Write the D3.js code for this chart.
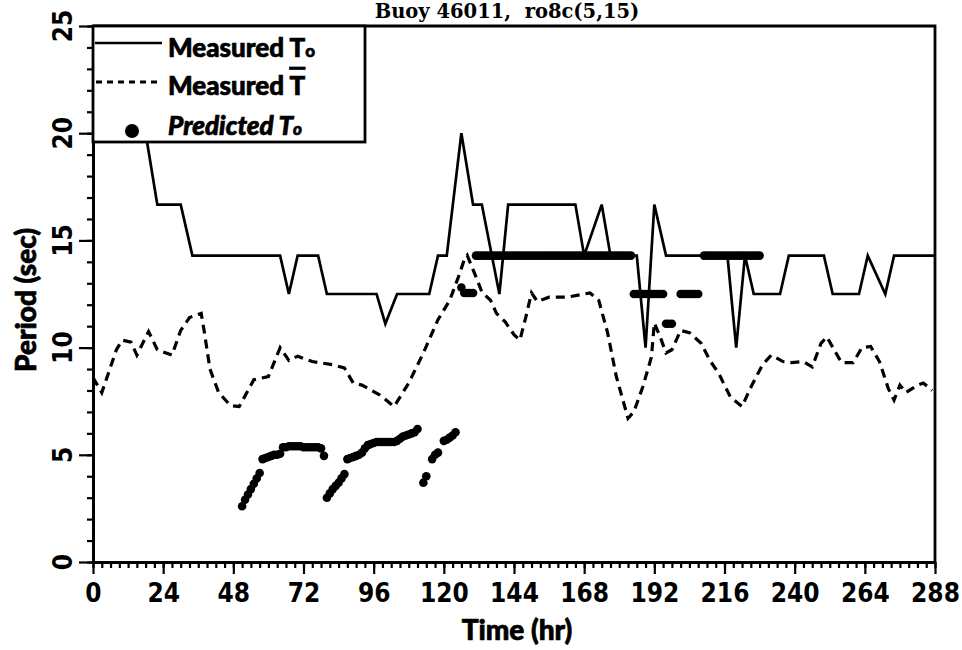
<!DOCTYPE html>
<html><head><meta charset="utf-8">
<script src="https://cdn.jsdelivr.net/npm/d3@7/dist/d3.min.js"></script>
<style>
html,body{margin:0;padding:0;background:#fff;}
svg{display:block;}
</style></head>
<body>
<svg id="chart" width="962" height="650"></svg>
<script>
// ---------------- DATA ----------------
const titleText = "Buoy 46011,\u00a0\u00a0ro8c(5,15)";
const xTickLabels = [0, 24, 48, 72, 96, 120, 144, 168, 192, 216, 240, 264, 288];
const yTickLabels = [0, 5, 10, 15, 20, 25];

// Measured To (solid line)
const toHours  = [0, 18, 22, 30, 34, 64, 67, 70, 77, 80, 97, 100, 104, 115, 118, 121, 126, 130, 133, 139, 142, 165, 168, 174, 177, 186, 189, 192, 196, 217, 220, 223, 226, 235, 238, 250, 253, 262, 265, 271, 274, 288];
const toPeriod = [20, 20, 16.67, 16.67, 14.29, 14.29, 12.5, 14.29, 14.29, 12.5, 12.5, 11.11, 12.5, 12.5, 14.29, 14.29, 20, 16.67, 16.67, 12.5, 16.67, 16.67, 14.29, 16.67, 14.29, 14.29, 10, 16.67, 14.29, 14.29, 10, 14.29, 12.5, 12.5, 14.29, 14.29, 12.5, 12.5, 14.29, 12.5, 14.29, 14.29];

// Measured T-bar (dashed line)
const tbHours  = [0, 3, 8, 10, 13, 15, 19, 22, 25, 27, 30, 33, 37, 38, 40, 43, 47, 50, 55, 60, 64, 67, 70, 75, 82, 86, 89, 92, 98, 103, 108, 113, 118, 122, 125, 127, 128, 131, 133, 136, 138, 141, 144, 146, 148, 150, 152, 156, 162, 170, 173, 176, 179, 183, 185, 188, 191, 192, 194, 196, 198, 201, 204, 208, 211, 214, 218, 222, 225, 229, 232, 236, 239, 243, 246, 249, 251, 256, 260, 263, 266, 269, 272, 274, 276, 278, 282, 284, 287];
const tbPeriod = [8.6, 7.9, 9.9, 10.35, 10.25, 9.65, 10.75, 9.9, 9.75, 9.65, 10.8, 11.4, 11.6, 10.8, 9.0, 7.9, 7.3, 7.25, 8.5, 8.65, 10.0, 9.4, 9.6, 9.35, 9.2, 9.05, 8.35, 8.25, 7.8, 7.25, 8.35, 9.75, 11.3, 12.2, 13.3, 14.1, 14.3, 13.3, 12.6, 12.2, 11.6, 11.2, 10.6, 10.35, 11.4, 12.55, 12.15, 12.35, 12.35, 12.55, 12.2, 10.7, 8.65, 6.7, 7.0, 8.15, 9.55, 11.15, 10.5, 9.75, 9.9, 10.8, 10.7, 10.2, 9.4, 8.8, 7.7, 7.25, 8.15, 9.2, 9.65, 9.35, 9.3, 9.35, 9.1, 10.2, 10.5, 9.3, 9.3, 10.0, 10.05, 9.35, 8.1, 7.55, 8.25, 7.9, 8.25, 8.35, 8.0];

// Predicted To (dots, hourly)
const predHours = [
  51,52,53,54,55,56,57,58,59,60,61,62,63,64,65,66,67,68,69,70,71,72,73,74,75,76,77,78,79,
  80,81,82,83,84,85,86,87,88,89,90,91,92,93,94,95,96,97,98,99,100,101,102,103,104,105,106,107,108,109,110,111,
  113,114,116,117,118,120,121,122,123,124,
  126,127,128,129,130,
  131,132,133,134,135,136,137,138,139,140,141,142,143,144,145,146,147,148,149,150,151,152,153,154,155,156,157,
  158,159,160,161,162,163,164,165,166,167,168,169,170,171,172,173,174,175,176,177,178,179,180,181,182,183,184,
  185,186,187,188,189,190,191,192,193,194,195,
  196,197,198,
  201,202,203,204,205,206,207,
  209,210,211,212,213,214,215,216,217,218,219,220,221,222,223,224,225,226,227,228];
const predPeriod = [
  2.6,2.9,3.15,3.4,3.65,3.9,4.15,4.8,4.85,4.9,4.95,5.0,5.0,5.05,5.35,5.35,5.4,5.4,5.4,5.4,5.4,5.35,5.35,5.35,5.35,5.35,5.35,5.3,4.95,
  3.0,3.2,3.4,3.55,3.7,3.9,4.1,4.8,4.85,4.9,4.95,5.0,5.1,5.3,5.45,5.5,5.55,5.6,5.6,5.6,5.6,5.6,5.6,5.6,5.65,5.75,5.85,5.9,5.95,6.0,6.05,6.2,
  3.7,4.0,4.8,5.0,5.1,5.65,5.7,5.8,5.9,6.05,
  12.8,12.55,12.55,12.55,12.55,
  14.29,14.29,14.29,14.29,14.29,14.29,14.29,14.29,14.29,14.29,14.29,14.29,14.29,14.29,14.29,14.29,14.29,14.29,14.29,14.29,14.29,14.29,14.29,14.29,14.29,14.29,14.29,
  14.29,14.29,14.29,14.29,14.29,14.29,14.29,14.29,14.29,14.29,14.29,14.29,14.29,14.29,14.29,14.29,14.29,14.29,14.29,14.29,14.29,14.29,14.29,14.29,14.29,14.29,14.29,
  12.5,12.5,12.5,12.5,12.5,12.5,12.5,12.5,12.5,12.5,12.5,
  11.11,11.11,11.11,
  12.5,12.5,12.5,12.5,12.5,12.5,12.5,
  14.29,14.29,14.29,14.29,14.29,14.29,14.29,14.29,14.29,14.29,14.29,14.29,14.29,14.29,14.29,14.29,14.29,14.29,14.29,14.29];

const legendLabels = ["Measured T", "Measured T", "Predicted T"];

// ---------------- CHART ----------------
const svg = d3.select("#chart");
const L = 93, R = 935, T = 26, B = 562;
const x = d3.scaleLinear().domain([0, 288]).range([L, R]);
const y = d3.scaleLinear().domain([0, 25]).range([B, T]);

const tickFont = "'DejaVu Sans Condensed','DejaVu Sans',sans-serif";
const textFont = "Lato,'DejaVu Sans',sans-serif";

// title
svg.append("text").attr("x", 507).attr("y", 18).attr("text-anchor", "middle")
  .attr("font-family", "'DejaVu Serif',serif").attr("font-weight", "bold")
  .attr("font-size", 19.5).text(titleText);

const toPts = toHours.map((h, i) => [h, toPeriod[i]]);
const tbPts = tbHours.map((h, i) => [h, tbPeriod[i]]);
const line = d3.line().x(d => x(d[0])).y(d => y(d[1]));

svg.append("path").attr("d", line(tbPts)).attr("fill", "none")
  .attr("stroke", "#000").attr("stroke-width", 3.2).attr("stroke-dasharray", "9,6");
svg.append("path").attr("d", line(toPts)).attr("fill", "none")
  .attr("stroke", "#000").attr("stroke-width", 2.7).attr("stroke-linejoin", "miter");

// predicted dots
svg.append("g").selectAll("circle").data(predHours.map((h, i) => [h, predPeriod[i]]))
  .join("circle").attr("cx", d => x(d[0])).attr("cy", d => y(d[1])).attr("r", 4.3).attr("fill", "#000");

// axes
const xMinor = svg.append("g").attr("transform", `translate(0,${B})`)
  .call(d3.axisBottom(x).tickValues(d3.range(0, 289, 3)).tickSize(6).tickSizeOuter(0).tickFormat(""));
const xMajor = svg.append("g").attr("transform", `translate(0,${B})`)
  .call(d3.axisBottom(x).tickValues(xTickLabels).tickSize(12).tickSizeOuter(0).tickPadding(10).tickFormat(d3.format("d")));
const yMinor = svg.append("g").attr("transform", `translate(${L},0)`)
  .call(d3.axisLeft(y).tickValues(d3.range(0, 26, 1)).tickSize(6).tickSizeOuter(0).tickFormat(""));
const yMajor = svg.append("g").attr("transform", `translate(${L},0)`)
  .call(d3.axisLeft(y).tickValues(yTickLabels).tickSize(14).tickSizeOuter(0).tickFormat(""));

[xMinor, xMajor, yMinor, yMajor].forEach(g => {
  g.selectAll("path.domain").attr("stroke", "#000").attr("stroke-width", 2.8);
  g.selectAll(".tick line").attr("stroke", "#000").attr("stroke-width", 2.2);
});
xMajor.selectAll(".tick text").attr("font-family", tickFont).attr("font-weight", "bold")
  .attr("font-size", 26).attr("fill", "#000");

// y tick labels, rotated
svg.append("g").selectAll("text").data(yTickLabels).join("text")
  .attr("transform", d => `translate(72,${y(d)}) rotate(-90)`)
  .attr("text-anchor", "middle").attr("font-family", tickFont).attr("font-weight", "bold")
  .attr("font-size", 26).text(d => d);

// frame top/right
svg.append("path").attr("d", `M${L},${T}H${R}V${B}`).attr("fill", "none")
  .attr("stroke", "#000").attr("stroke-width", 2.8);

// axis titles
svg.append("text").attr("x", 517).attr("y", 640).attr("text-anchor", "middle")
  .attr("font-family", textFont).attr("font-weight", 900).attr("font-size", 28)
  .attr("stroke", "#000").attr("stroke-width", 0.7).text("Time (hr)");
svg.append("text").attr("transform", "translate(36,300) rotate(-90)").attr("text-anchor", "middle")
  .attr("font-family", textFont).attr("font-weight", 900).attr("font-size", 28)
  .attr("stroke", "#000").attr("stroke-width", 0.7).text("Period (sec)");

// legend
const lg = svg.append("g");
lg.append("rect").attr("x", L).attr("y", T).attr("width", 365 - L).attr("height", 142 - T)
  .attr("fill", "#fff").attr("stroke", "#000").attr("stroke-width", 2.8);
lg.append("line").attr("x1", 95).attr("x2", 162).attr("y1", 43).attr("y2", 43)
  .attr("stroke", "#000").attr("stroke-width", 2.7);
lg.append("line").attr("x1", 96).attr("x2", 162).attr("y1", 82).attr("y2", 82)
  .attr("stroke", "#000").attr("stroke-width", 3).attr("stroke-dasharray", "6,5");
lg.append("circle").attr("cx", 132).attr("cy", 131).attr("r", 7).attr("fill", "#000");
const baselines = [57, 95, 135];
legendLabels.forEach((lab, i) => {
  const t = lg.append("text").attr("x", 168).attr("y", baselines[i])
    .attr("font-family", textFont).attr("font-weight", 900).attr("font-size", 26)
    .attr("stroke", "#000").attr("stroke-width", 0.7)
    .attr("font-style", i === 2 ? "italic" : "normal");
  const base = lab.slice(0, -1);
  t.append("tspan").text(base);
  if (i === 1) {
    t.append("tspan").attr("text-decoration", "overline").text("T");
  } else {
    t.append("tspan").text("T");
    t.append("tspan").attr("font-size", 17).text("o");
  }
});
</script>
</body></html>
